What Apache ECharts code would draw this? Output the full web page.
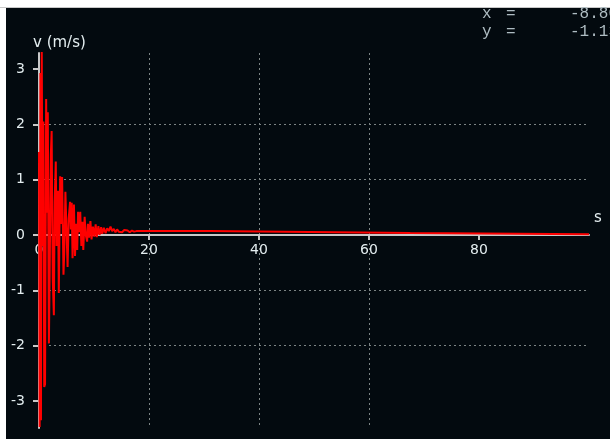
<!DOCTYPE html>
<html><head><meta charset="utf-8">
<script src="https://cdn.jsdelivr.net/npm/echarts@6/dist/echarts.min.js"></script>
<style>html,body{margin:0;padding:0;background:#ffffff;}#c{width:610px;height:439px;}</style>
</head><body><div id="c"></div>
<script>
// time (s)
var tValues = [0.0,0.12,0.25,0.36,0.5,0.65,0.8,0.95,1.1,1.3,1.45,1.6,1.8,1.95,2.15,2.3,2.5,2.7,2.85,3.05,3.2,3.45,3.6,3.85,4.0,4.2,4.45,4.6,4.8,5.0,5.2,5.4,5.65,5.8,5.95,6.1,6.35,6.55,6.75,6.95,7.1,7.3,7.5,7.7,7.9,8.05,8.3,8.5,8.75,8.9,9.1,9.35,9.55,9.8,10.05,10.3,10.5,10.8,11.0,11.3,11.5,11.8,12.1,12.4,12.7,13.0,13.3,13.6,13.9,14.2,14.5,14.8,15.1,15.5,15.8,16.1,16.5,16.9,17.3,17.7,18.2,31.0,31.1,67.5,67.6,100];
// velocity (m/s)
var vValues = [1.5,-3.47,2.93,-3.35,3.31,-0.2,2.05,-2.75,-2.7,2.46,0.4,2.22,-1.96,-0.6,1.45,1.88,-0.8,-1.45,0.6,1.33,-0.2,0.8,-1.05,1.06,0.2,1.05,-0.72,-0.3,0.78,0.1,-0.58,0.3,0.6,0.1,0.58,-0.42,0.55,-0.38,0.2,-0.27,0.42,0.05,0.42,-0.2,0.24,-0.27,0.33,0.0,-0.12,0.2,-0.05,0.25,-0.08,0.15,-0.03,0.19,-0.04,0.16,0.0,0.14,0.02,0.13,0.03,0.12,0.07,0.15,0.07,0.11,0.05,0.1,0.06,0.09,0.05,0.09,0.06,0.08,0.05,0.08,0.06,0.07,0.07,0.07,0.035,0.035,0.015,0.015];
var xTicks = [0,20,40,60,80];
var yTicks = [-3,-2,-1,0,1,2,3];
var yName = 'v (m/s)';
var xName = 's';
var readLabels = ['x', 'y'];
var readValues = ['-8.80', '-1.13'];

var Y_MIN = -3.49, Y_MAX = 3.29;
var GRID_TOP = 53, GRID_BOTTOM = 11, H = 439;
var plotH = H - GRID_TOP - GRID_BOTTOM;
var zeroOffset = -(plotH * (0 - Y_MIN) / (Y_MAX - Y_MIN));

var data = tValues.map(function(t,i){return [t, vValues[i]];});
var chart = echarts.init(document.getElementById('c'), null, {renderer:'canvas'});
var labelStyle = {color:'#e4eef0', fontFamily:'DejaVu Sans', fontSize:14};
var grid = {type:[2,3], color:'#7c8484', width:1};
var mono = '16px "Liberation Mono"';
var readColor = '#aebcc2';
chart.setOption({
  animation:false,
  backgroundColor:'#ffffff',
  graphic:[
    {type:'rect', left:6, top:8, z:-10, shape:{width:604, height:431}, style:{fill:'#030a0f'}},
    {type:'line', z:-9, shape:{x1:0,y1:7.5,x2:610,y2:7.5}, style:{stroke:'#c8c8c8', lineWidth:1}},
    {type:'text', left:33, top:36, style:{text:yName, fill:'#e4eef0', font:'15px "DejaVu Sans"'}},
    {type:'text', left:594, top:211, style:{text:xName, fill:'#e4eef0', font:'15px "DejaVu Sans"'}},
    {type:'text', left:482, top:6, style:{text:readLabels[0], fill:readColor, font:mono}},
    {type:'text', left:506, top:6, style:{text:'=', fill:readColor, font:mono}},
    {type:'text', left:570, top:6, style:{text:readValues[0], fill:readColor, font:mono}},
    {type:'text', left:482, top:24, style:{text:readLabels[1], fill:readColor, font:mono}},
    {type:'text', left:506, top:24, style:{text:'=', fill:readColor, font:mono}},
    {type:'text', left:570, top:24, style:{text:readValues[1], fill:readColor, font:mono}}
  ],
  grid:{left:39, right:21, top:GRID_TOP, bottom:GRID_BOTTOM, containLabel:false, outerBoundsMode:'none'},
  xAxis:{type:'value', min:0, max:100, interval:20, position:'bottom', offset:zeroOffset,
    axisLine:{onZero:false, lineStyle:{color:'#c8c8c8', width:2}},
    axisTick:{show:true, length:5, customValues:xTicks, lineStyle:{color:'#c8c8c8', width:2}},
    axisLabel:Object.assign({margin:8, customValues:xTicks}, labelStyle),
    splitLine:{show:true, showMinLine:false, showMaxLine:false, lineStyle:grid}
  },
  yAxis:{type:'value', min:Y_MIN, max:Y_MAX,
    axisLine:{show:true, onZero:false, lineStyle:{color:'#c8c8c8', width:2}},
    axisTick:{show:true, length:6, customValues:yTicks, lineStyle:{color:'#c8c8c8', width:2}},
    axisLabel:Object.assign({margin:14, customValues:yTicks}, labelStyle),
    splitLine:{show:true, showMinLine:false, showMaxLine:false, lineStyle:grid}
  },
  series:[{type:'line', data:data, showSymbol:false, symbol:'none',
    lineStyle:{color:'#ff0000', width:2}, z:5}]
});
</script></body></html>
